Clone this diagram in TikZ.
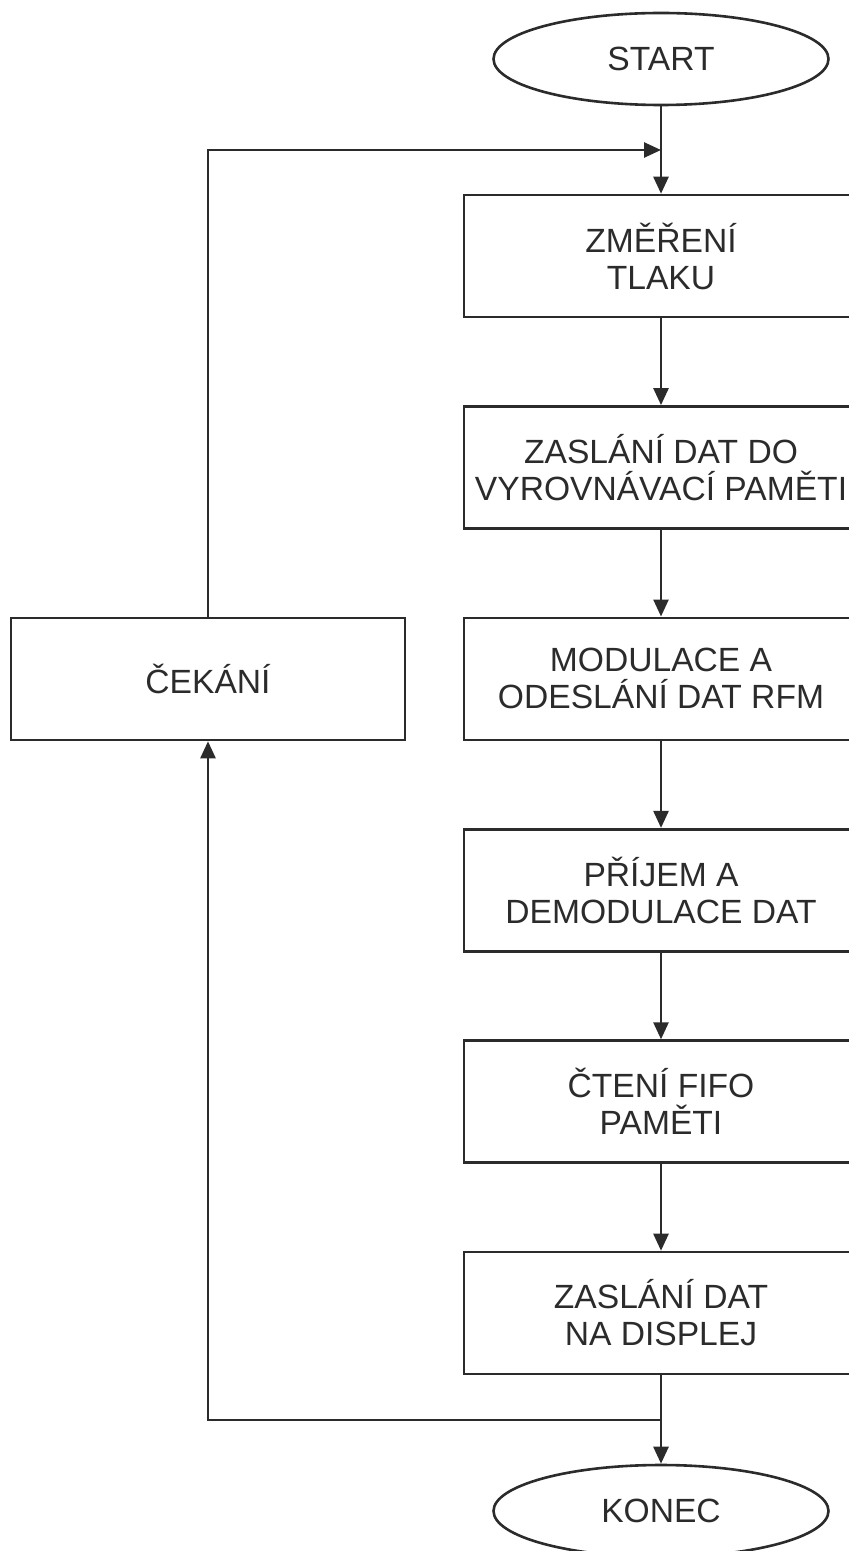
\documentclass[tikz,border=0pt]{standalone}
\usepackage{fontspec}
\setmainfont{Liberation Sans}
\usetikzlibrary{shapes.geometric,arrows.meta,positioning}
\definecolor{ink}{HTML}{2B2B2B}
\begin{document}
\begin{tikzpicture}
        [x=0.5pt,y=-0.5pt,
        krok/.style ={draw=ink,line width=1.3pt,minimum width=197pt,minimum height=61pt,inner sep=0pt,align=center,text=ink,font=\fontsize{16.8}{18.5}\selectfont},
        mez/.style ={draw=ink,line width=1.3pt,ellipse,minimum width=167.5pt,minimum height=46pt,inner sep=0pt,text=ink,font=\fontsize{16.8}{18.5}\selectfont},
        sip/.style ={draw=ink,line width=1.3pt,-{Triangle[length=8.5pt,width=7.5pt]}},
        node distance=105.7pt]
        \path[use as bounding box,clip] (0,0) rectangle (849,1551);
        \node[mez] (start) at (661,59){START};
        \node[krok] (mereni) at (661,256){ZMĚŘENÍ\\TLAKU};
        \node[krok] (zaslani)[below of= mereni]{ZASLÁNÍ DAT DO\\VYROVNÁVACÍ PAMĚTI};
        \node[krok] (modulace)[below of= zaslani]{MODULACE A\\ODESLÁNÍ DAT RFM};
        \node[krok] (prijem)[below of= modulace]{PŘÍJEM A\\DEMODULACE DAT};
        \node[krok] (cteni)[below of= prijem]{ČTENÍ FIFO\\PAMĚTI};
        \node[krok] (displej)[below of= cteni]{ZASLÁNÍ DAT\\NA DISPLEJ};
        \node[mez] (konec) at (661,1511){KONEC};
        \node[krok] (cekani) at (208,679){ČEKÁNÍ};
        \coordinate (vstup) at (661,150);
        \coordinate (rozcesti) at (661,1420);
        \draw[sip] (start) to (mereni);
        \draw[sip] (mereni) to (zaslani);
        \draw[sip] (zaslani) to (modulace);
        \draw[sip] (modulace) to (prijem);
        \draw[sip] (prijem) to (cteni);
        \draw[sip] (cteni) to (displej);
        \draw[sip] (displej) to (konec);
        \draw[sip] (cekani.north) |- (vstup);
        \draw[sip] (rozcesti) -| (cekani.south);
    \end{tikzpicture}
\end{document}
